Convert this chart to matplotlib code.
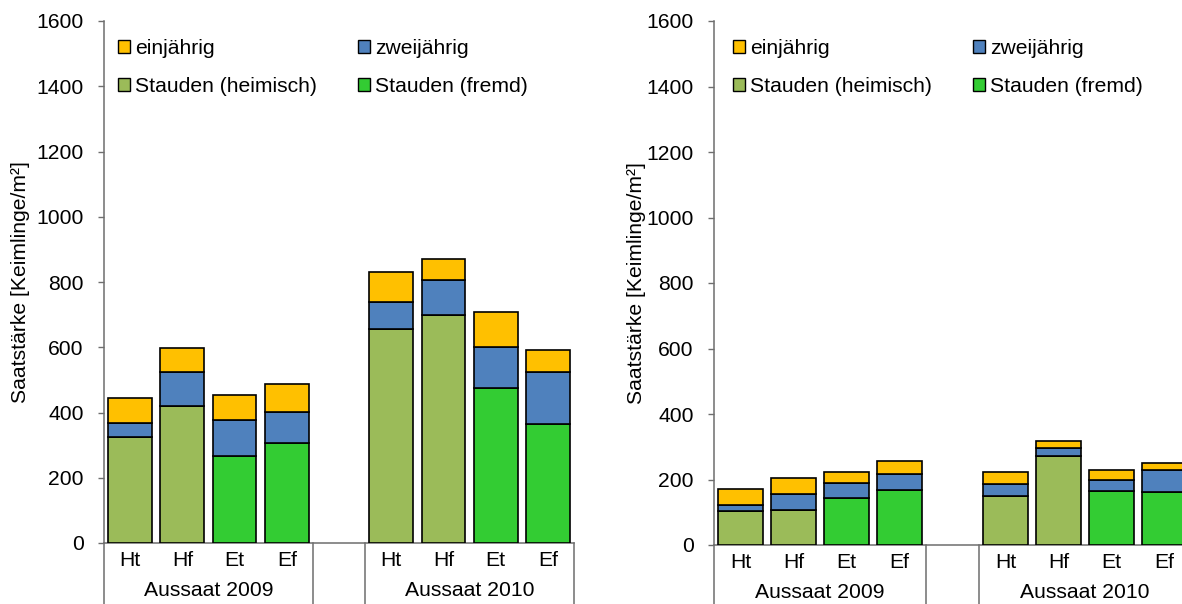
import matplotlib
matplotlib.use("Agg")
import matplotlib.pyplot as plt
from matplotlib.patches import Patch
import numpy as np

plt.rcParams['font.family'] = ['Liberation Sans', 'DejaVu Sans']

# Categories and sowing years
categories = ["Ht", "Hf", "Et", "Ef"]
groups = ["Aussaat 2009", "Aussaat 2010"]
series_names = ["einjährig", "zweijährig", "Stauden (heimisch)", "Stauden (fremd)"]
series_colors = ["#FFC000", "#4F81BD", "#9BBB59", "#33CC33"]

# Left panel (values per bar: 2009 Ht, Hf, Et, Ef, then 2010 Ht, Hf, Et, Ef)
left_heimisch = [326, 421, 0, 0, 656, 700, 0, 0]
left_fremd = [0, 0, 266, 305, 0, 0, 476, 364]
left_zwei = [42, 104, 112, 98, 83, 105, 126, 159]
left_ein = [75, 74, 76, 85, 93, 64, 105, 70]

# Right panel
right_heimisch = [104, 107, 0, 0, 151, 271, 0, 0]
right_fremd = [0, 0, 143, 168, 0, 0, 165, 162]
right_zwei = [19, 49, 45, 49, 36, 24, 35, 68]
right_ein = [47, 49, 35, 38, 36, 23, 30, 21]

y_ticks = [0, 200, 400, 600, 800, 1000, 1200, 1400, 1600]
y_label = "Saatstärke [Keimlinge/m²]"

FS = 15.2
AXIS_COLOR = "#6e6e6e"

fig = plt.figure(figsize=(11.82, 6.04), dpi=100)


def draw_panel(ax, heimisch, fremd, zwei, ein, ylabel_x, legend_anchor):
    # slots 0-3 for the first year, slot 4 empty, slots 5-8 for the second year
    x = np.array([0, 1, 2, 3, 5, 6, 7, 8], dtype=float)
    heimisch = np.array(heimisch, dtype=float)
    fremd = np.array(fremd, dtype=float)
    zwei = np.array(zwei, dtype=float)
    ein = np.array(ein, dtype=float)
    w = 0.84
    kw = dict(width=w, edgecolor="black", linewidth=1.2, zorder=3)
    base = heimisch + fremd
    ax.bar(x, heimisch, color=series_colors[2], **kw)
    ax.bar(x, fremd, bottom=heimisch, color=series_colors[3], **kw)
    ax.bar(x, zwei, bottom=base, color=series_colors[1], **kw)
    ax.bar(x, ein, bottom=base + zwei, color=series_colors[0], **kw)

    ax.set_xlim(-0.5, 8.5)
    ax.set_ylim(0, 1600)
    ax.set_yticks(y_ticks)
    ax.tick_params(axis="y", direction="out", length=4.5, width=1,
                   color=AXIS_COLOR, pad=10, labelsize=FS)
    ax.set_xticks([])
    for s in ["top", "right"]:
        ax.spines[s].set_visible(False)
    ax.spines["left"].set_color(AXIS_COLOR)
    ax.spines["bottom"].set_color(AXIS_COLOR)
    ax.spines["left"].set_linewidth(1.1)
    ax.spines["bottom"].set_linewidth(1.1)

    ax.set_ylabel(y_label, fontsize=FS)
    ax.yaxis.set_label_coords(ylabel_x, 0.5)

    # multi-level category axis below the plot
    trans = ax.get_xaxis_transform()
    for xi, lab in zip(x, categories * 2):
        ax.text(xi, -0.033, lab, transform=trans, ha="center", va="center",
                fontsize=FS)
    for gi, g in enumerate(groups):
        ax.text(1.5 + 5 * gi, -0.091, g, transform=trans, ha="center",
                va="center", fontsize=FS)
    for xb in [-0.5, 3.5, 4.5, 8.5]:
        ax.plot([xb, xb], [0, -0.2], transform=trans, color=AXIS_COLOR,
                linewidth=1.1, clip_on=False)

    handles = [Patch(facecolor=series_colors[i], edgecolor="black", linewidth=1.0)
               for i in [0, 2, 1, 3]]
    labels = [series_names[i] for i in [0, 2, 1, 3]]
    ax.legend(handles, labels, loc="upper left", bbox_to_anchor=legend_anchor,
              ncol=2, frameon=False, fontsize=FS, handlelength=0.55,
              handleheight=0.55, handletextpad=0.25, columnspacing=1.95,
              labelspacing=0.9, borderaxespad=0, borderpad=0)


ax1 = fig.add_axes([104 / 1182, 61 / 604, 470 / 1182, 522 / 604])
draw_panel(ax1, left_heimisch, left_fremd, left_zwei, left_ein,
           -0.158, (0.03, 0.966))

ax2 = fig.add_axes([714 / 1182, 59 / 604, 477 / 1182, 524 / 604])
draw_panel(ax2, right_heimisch, right_fremd, right_zwei, right_ein,
           -0.143, (0.04, 0.966))

fig.savefig("out.png", dpi=100)
